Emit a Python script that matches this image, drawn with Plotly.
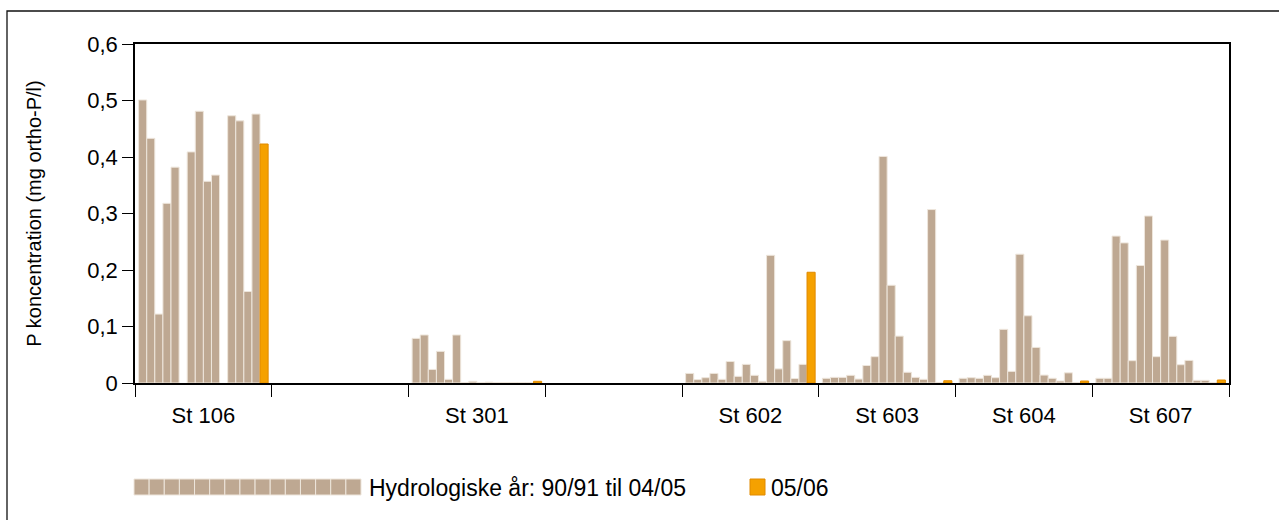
import plotly.graph_objects as go

# ---- data ----
stations = ["St 106", " ", "St 301", "  ", "St 602", "St 603", "St 604", "St 607"]
years = ["90/91", "91/92", "92/93", "93/94", "94/95", "95/96", "96/97", "97/98",
         "98/99", "99/00", "00/01", "01/02", "02/03", "03/04", "04/05", "05/06"]

st106 = [0.501, 0.433, 0.122, 0.318, 0.382, None, 0.409, 0.481, 0.357, 0.368, None, 0.473, 0.464, 0.162, 0.476, 0.423]
blank1 = [None] * 16
st301 = [0.079, 0.085, 0.024, 0.056, 0.0065, 0.085, 0.0005, 0.003, 0.0005, 0.0015, 0.0008, 0.0008, 0.0008, 0.0008, 0.0005, 0.003]
blank2 = [None] * 16
st602 = [0.017, 0.006, 0.0094, 0.017, 0.0065, 0.038, 0.0118, 0.033, 0.0136, 0.003, 0.226, 0.025, 0.075, 0.008, 0.033, 0.196]
st603 = [0.0083, 0.010, 0.010, 0.0136, 0.007, 0.031, 0.0466, 0.401, 0.173, 0.083, 0.019, 0.010, 0.0065, 0.307, 0.001, 0.004]
st604 = [0.0083, 0.0094, 0.0083, 0.0136, 0.0094, 0.095, 0.0206, 0.228, 0.119, 0.063, 0.014, 0.0083, 0.0035, 0.018, 0.001, 0.0035]
st607 = [0.0083, 0.0083, 0.26, 0.248, 0.0395, 0.208, 0.2956, 0.0466, 0.253, 0.0826, 0.0324, 0.040, 0.0047, 0.0047, 0.001, 0.0053]

y_tickvals = [0, 0.1, 0.2, 0.3, 0.4, 0.5, 0.6]
y_ticktext = ["0", "0,1", "0,2", "0,3", "0,4", "0,5", "0,6"]
y_title = "P koncentration (mg ortho-P/l)"
legend_hist = "Hydrologiske år: 90/91 til 04/05"
legend_cur = "05/06"

# ---- style ----
FONT = "Liberation Sans, Arial, Helvetica, sans-serif"
BROWN = "#BEA892"
BROWN_EDGE = "#EEE6DC"
ORANGE = "#F5A100"
ORANGE_EDGE = "#E08A00"

series = [st106, blank1, st301, blank2, st602, st603, st604, st607]

fig = go.Figure()
for i, yr in enumerate(years):
    vals = [s[i] for s in series]
    cur = i == len(years) - 1
    fig.add_trace(go.Bar(
        x=stations, y=vals, name=yr, showlegend=False,
        marker=dict(color=ORANGE if cur else BROWN,
                    line=dict(color=ORANGE_EDGE if cur else BROWN_EDGE, width=1)),
    ))

# pixel -> paper helpers (plot area: x 135..1229, y 44..383)
L, R, T, B = 135, 1229, 44, 383
def px(x):
    return (x - L) / (R - L)
def py(y):
    return (B - y) / (B - T)

shapes = []
# outer frame (top & left visible)
shapes.append(dict(type="rect", xref="paper", yref="paper",
                   x0=px(7), x1=px(1300), y0=py(540), y1=py(11),
                   line=dict(color="#111111", width=1.3), fillcolor="rgba(0,0,0,0)", layer="below"))
# legend: 15 brown squares
n_hist = len(years) - 1
sx0, sx1 = 134, 361
w = (sx1 - sx0) / n_hist
for k in range(n_hist):
    shapes.append(dict(type="rect", xref="paper", yref="paper",
                       x0=px(sx0 + k * w), x1=px(sx0 + (k + 1) * w),
                       y0=py(495), y1=py(479),
                       fillcolor=BROWN, line=dict(color=BROWN_EDGE, width=1)))
shapes.append(dict(type="rect", xref="paper", yref="paper",
                   x0=px(750), x1=px(765), y0=py(495), y1=py(479),
                   fillcolor=ORANGE, line=dict(color=ORANGE_EDGE, width=1)))

annotations = [
    dict(text=legend_hist, xref="paper", yref="paper", x=px(367), y=py(488),
         xanchor="left", yanchor="middle", showarrow=False,
         font=dict(family=FONT, size=23, color="#000")),
    dict(text=legend_cur, xref="paper", yref="paper", x=px(769), y=py(488),
         xanchor="left", yanchor="middle", showarrow=False,
         font=dict(family=FONT, size=23, color="#000")),
]

fig.update_layout(
    width=1279, height=520,
    margin=dict(l=L, r=1279 - R, t=T, b=520 - B, autoexpand=False),
    paper_bgcolor="white", plot_bgcolor="white",
    barmode="group", bargap=0.053, bargroupgap=0,
    font=dict(family=FONT, size=20, color="#000"),
    shapes=shapes, annotations=annotations,
    showlegend=False,
)
fig.update_xaxes(
    type="category", categoryorder="array", categoryarray=stations,
    tickson="boundaries", ticks="outside", ticklen=12, tickwidth=1.2, tickcolor="#000",
    showline=True, linecolor="#000", linewidth=1.5, mirror=True,
    showgrid=False, zeroline=False, tickfont=dict(size=22), automargin=False,
    ticklabelstandoff=12,
)
fig.update_yaxes(
    range=[0, 0.6], tickvals=y_tickvals, ticktext=y_ticktext,
    ticks="outside", ticklen=11, tickwidth=1.2, tickcolor="#000",
    showline=True, linecolor="#000", linewidth=1.5, mirror=True,
    showgrid=False, zeroline=False, automargin=False, tickfont=dict(size=22),
    title=dict(text=y_title, standoff=40, font=dict(size=20)),
)

fig.write_html("out.html")
